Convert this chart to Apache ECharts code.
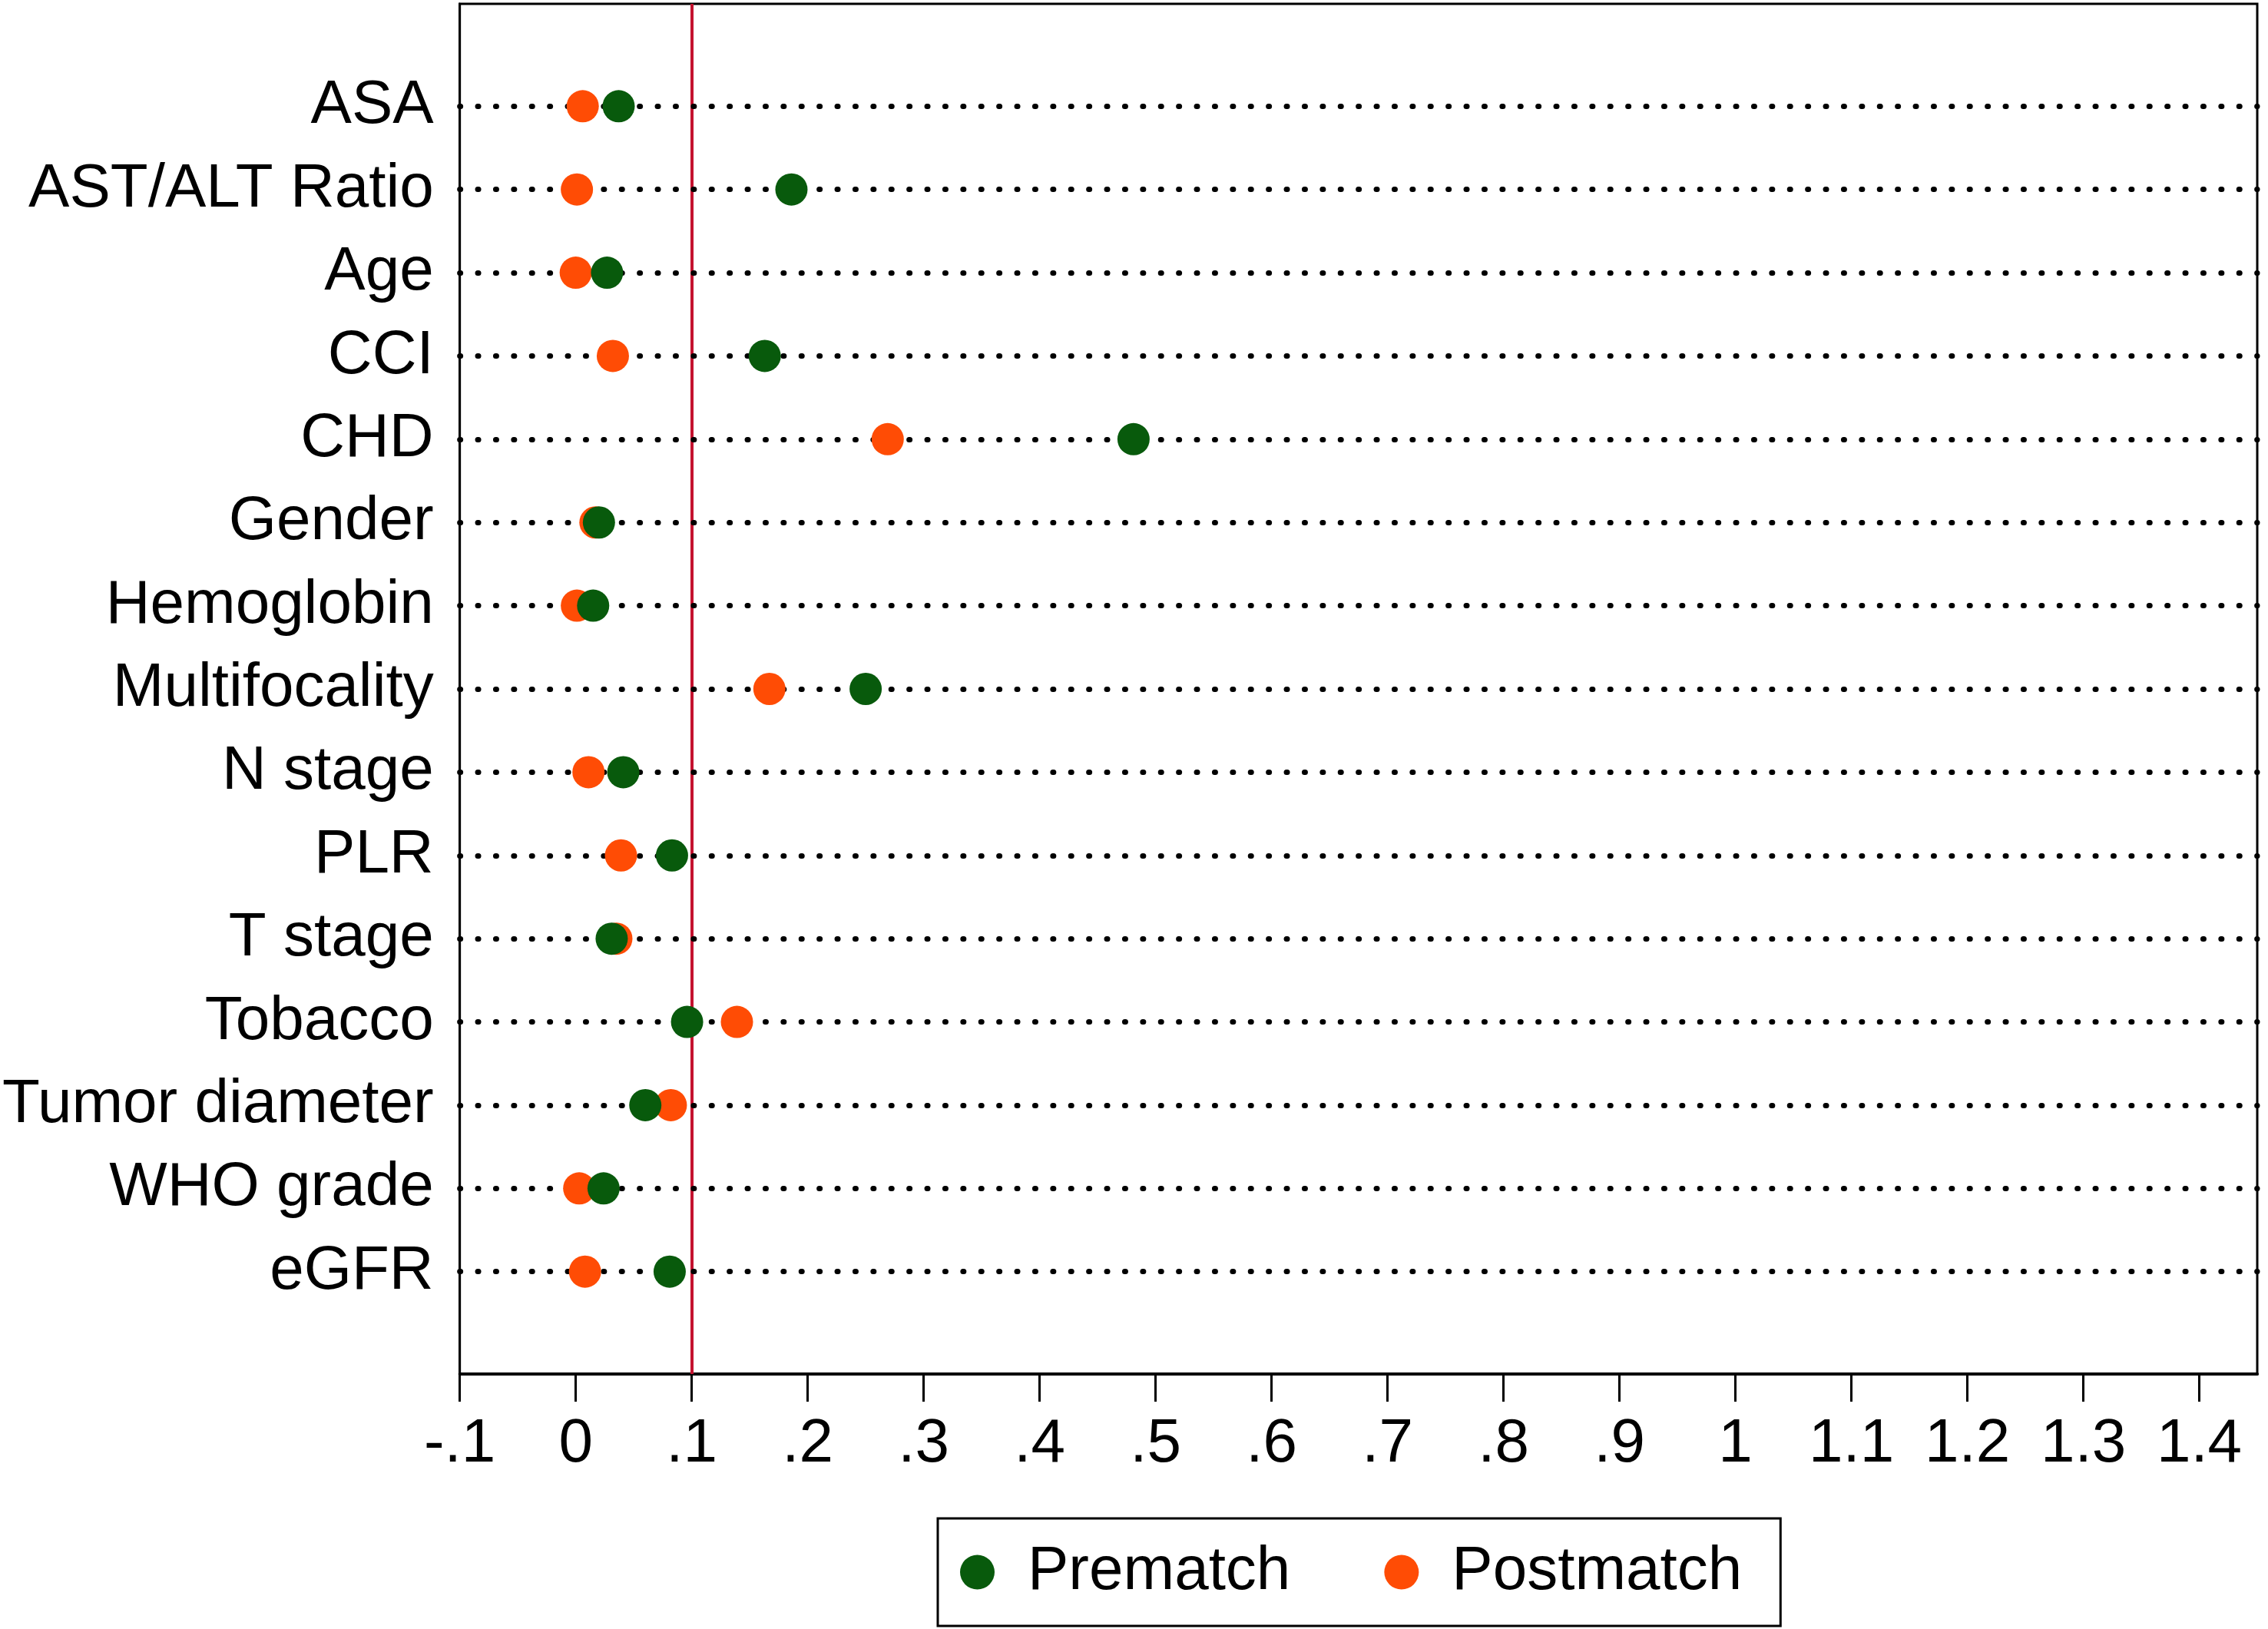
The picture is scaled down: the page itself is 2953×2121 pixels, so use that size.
<!DOCTYPE html>
<html>
<head>
<meta charset="utf-8">
<script src="https://cdn.jsdelivr.net/npm/echarts@6/dist/echarts.min.js"></script>
<style>
html, body { margin: 0; padding: 0; background: #fff; }
#main { width: 2953px; height: 2121px; }
</style>
</head>
<body>
<div id="main"></div>
<script>
// 变量名（从上到下）
var categories = ['ASA', 'AST/ALT Ratio', 'Age', 'CCI', 'CHD', 'Gender', 'Hemoglobin',
	'Multifocality', 'N stage', 'PLR', 'T stage', 'Tobacco', 'Tumor diameter', 'WHO grade', 'eGFR'];
// 标准化差值，匹配前 / 匹配后
var prematch = [0.037, 0.186, 0.027, 0.163, 0.481, 0.020, 0.015, 0.250, 0.041, 0.083, 0.031, 0.096, 0.060, 0.024, 0.081];
var postmatch = [0.006, 0.001, 0.000, 0.032, 0.269, 0.017, 0.001, 0.167, 0.011, 0.039, 0.035, 0.139, 0.082, 0.003, 0.008];
// x轴刻度
var xTickValues = [-0.1, 0, 0.1, 0.2, 0.3, 0.4, 0.5, 0.6, 0.7, 0.8, 0.9, 1, 1.1, 1.2, 1.3, 1.4];
var xTickLabels = ['-.1', '0', '.1', '.2', '.3', '.4', '.5', '.6', '.7', '.8', '.9', '1', '1.1', '1.2', '1.3', '1.4'];
var refLine = 0.1;

var rowIdx = [];
for (var i = 0; i < categories.length; i++) {
	rowIdx.push(i);
}
function toPoints(arr){
	var pts = [];
	for (var i = 0; i < arr.length; i++) {
		pts.push([arr[i], i]);
	}
	return pts;
}
var rowLines = [];
for (var i = 0; i < rowIdx.length; i++) {
	rowLines.push({yAxis: rowIdx[i]});
}

var font = "'Liberation Sans', Arial, sans-serif";
var myChart = echarts.init(document.getElementById('main'));
var option = {
	animation: false,
	backgroundColor: '#fff',
	textStyle: { fontFamily: font },
	grid: {
		left: 595, right: 14, top: 5, bottom: 332,
		show: true, borderColor: '#000', borderWidth: 3
	},
	xAxis: {
		type: 'value',
		min: -0.1,
		max: 1.45,
		axisLine: { show: true, onZero: false, lineStyle: { color: '#000', width: 4 } },
		axisTick: { show: true, customValues: xTickValues, length: 36, lineStyle: { color: '#000', width: 3 } },
		axisLabel: {
			customValues: xTickValues,
			margin: 52,
			fontSize: 80,
			color: '#000',
			fontFamily: font,
			formatter: function(v){
				var k = xTickValues.indexOf(v);
				return k >= 0 ? xTickLabels[k] : '';
			}
		},
		splitLine: { show: false }
	},
	yAxis: {
		type: 'value',
		min: -1.23,
		max: 15.23,
		inverse: true,
		axisLine: { show: true, onZero: false, lineStyle: { color: '#000', width: 3 } },
		axisTick: { show: false },
		axisLabel: {
			customValues: rowIdx,
			margin: 34,
			fontSize: 80,
			color: '#000',
			fontFamily: font,
			formatter: function(v){
				return categories[v] || '';
			}
		},
		splitLine: { show: false }
	},
	legend: {
		data: ['Prematch', 'Postmatch'],
		left: 1221,
		top: 1977,
		orient: 'horizontal',
		padding: [30, 50, 30, 29],
		itemGap: 122,
		itemWidth: 45,
		itemHeight: 45,
		borderColor: '#000',
		borderWidth: 3,
		textStyle: { fontSize: 80, color: '#000', fontFamily: font, padding: [0, 0, 0, 38] }
	},
	series: [
		{
			name: 'ref',
			type: 'scatter',
			data: [],
			z: 1,
			markLine: {
				silent: true,
				z: 1,
				symbol: 'none',
				label: { show: false },
				lineStyle: { color: '#c4122f', width: 4, type: 'solid' },
				data: [{ xAxis: refLine }]
			}
		},
		{
			name: 'rows',
			type: 'scatter',
			data: [],
			z: 2,
			markLine: {
				silent: true,
				z: 2,
				symbol: 'none',
				label: { show: false },
				lineStyle: { color: '#000', width: 7, type: [1, 22.4], cap: 'round' },
				data: rowLines
			}
		},
		{
			name: 'Postmatch',
			type: 'scatter',
			symbol: 'circle',
			symbolSize: 42,
			z: 3,
			itemStyle: { color: '#ff4c05', opacity: 1 },
			data: toPoints(postmatch)
		},
		{
			name: 'Prematch',
			type: 'scatter',
			symbol: 'circle',
			symbolSize: 42,
			z: 4,
			itemStyle: { color: '#085a0c', opacity: 1 },
			data: toPoints(prematch)
		}
	]
};
myChart.setOption(option);
</script>
</body>
</html>
